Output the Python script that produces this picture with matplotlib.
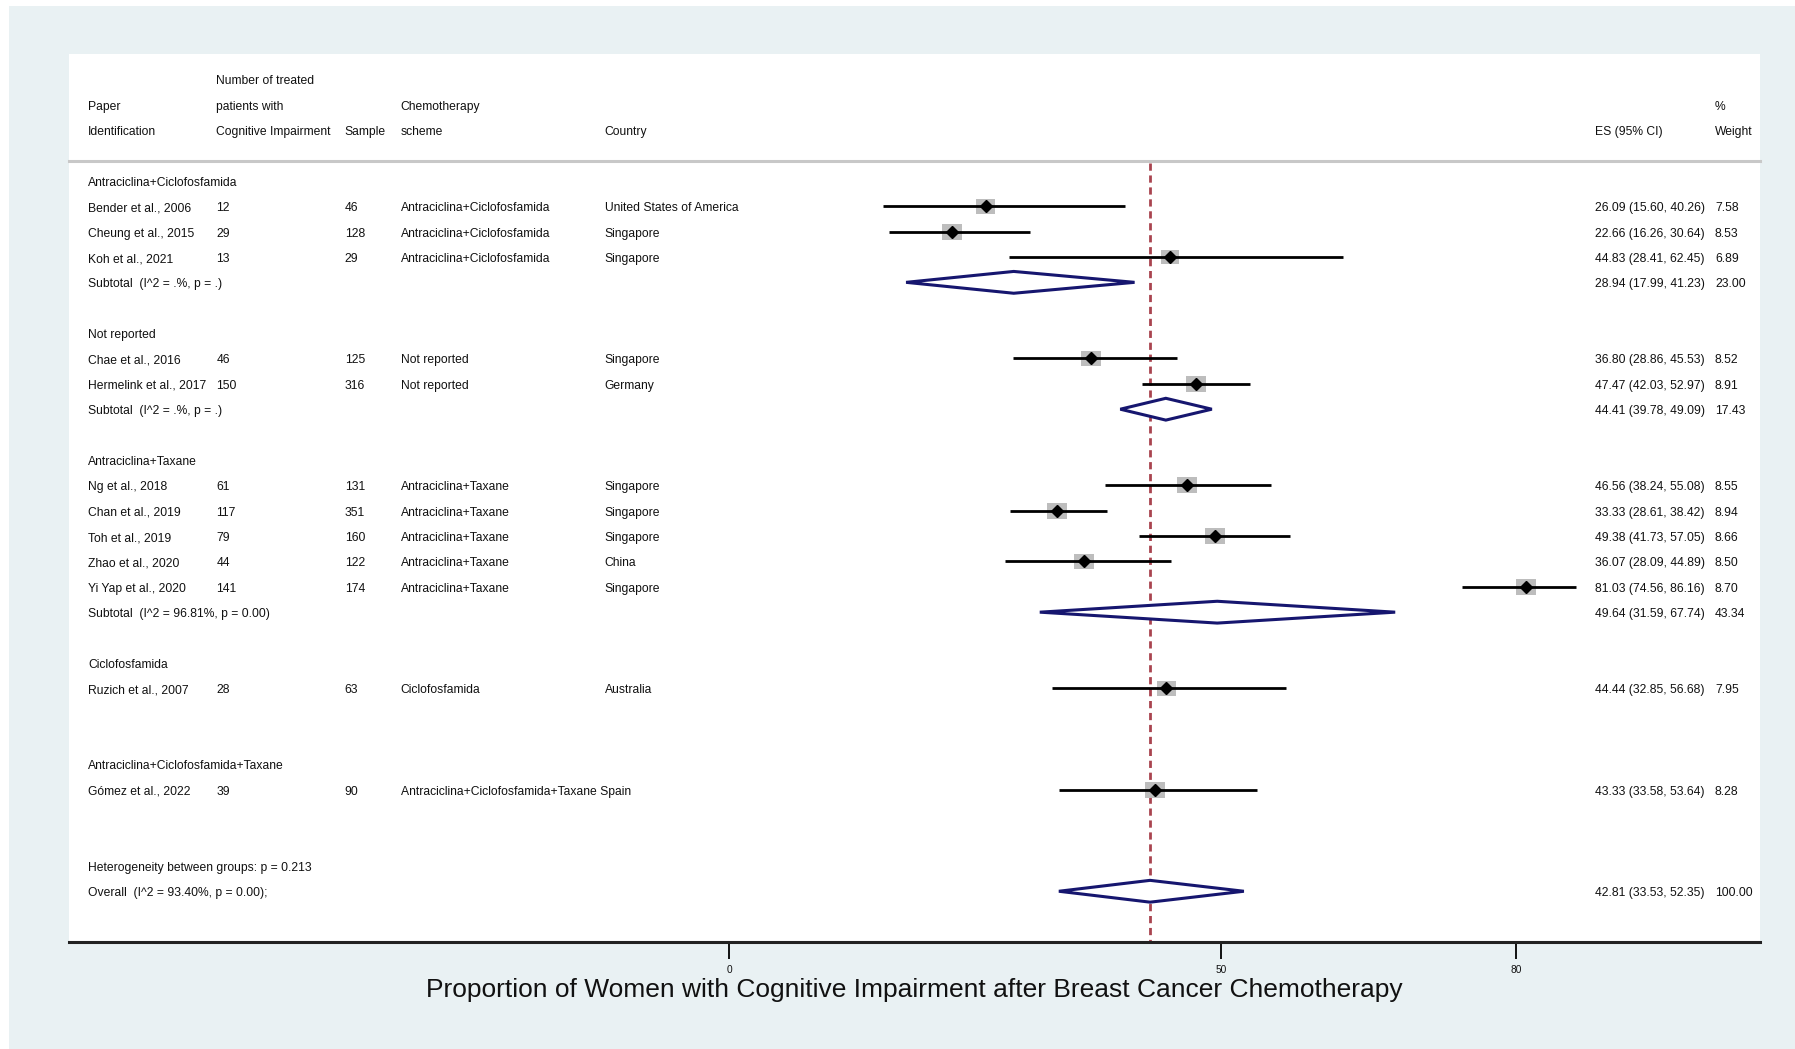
import matplotlib.pyplot as plt
import matplotlib.transforms as mtransforms
from matplotlib.patches import Polygon, Rectangle

plt.rcParams['font.family'] = ['Liberation Sans', 'DejaVu Sans']

# datos del forest plot
grupos = ["Antraciclina+Ciclofosfamida", "Not reported", "Antraciclina+Taxane",
          "Ciclofosfamida", "Antraciclina+Ciclofosfamida+Taxane"]

estudios = ["Bender et al., 2006", "Cheung et al., 2015", "Koh et al., 2021",
            "Chae et al., 2016", "Hermelink et al., 2017",
            "Ng et al., 2018", "Chan et al., 2019", "Toh et al., 2019",
            "Zhao et al., 2020", "Yi Yap et al., 2020",
            "Ruzich et al., 2007", "Gómez et al., 2022"]
grupo_estudio = [0, 0, 0, 1, 1, 2, 2, 2, 2, 2, 3, 4]
n_deterioro = [12, 29, 13, 46, 150, 61, 117, 79, 44, 141, 28, 39]
muestra = [46, 128, 29, 125, 316, 131, 351, 160, 122, 174, 63, 90]
esquema = ["Antraciclina+Ciclofosfamida"] * 3 + ["Not reported"] * 2 + \
          ["Antraciclina+Taxane"] * 5 + ["Ciclofosfamida", "Antraciclina+Ciclofosfamida+Taxane"]
pais = ["United States of America", "Singapore", "Singapore", "Singapore", "Germany",
        "Singapore", "Singapore", "Singapore", "China", "Singapore", "Australia", "Spain"]
es = [26.09, 22.66, 44.83, 36.80, 47.47, 46.56, 33.33, 49.38, 36.07, 81.03, 44.44, 43.33]
lci = [15.60, 16.26, 28.41, 28.86, 42.03, 38.24, 28.61, 41.73, 28.09, 74.56, 32.85, 33.58]
uci = [40.26, 30.64, 62.45, 45.53, 52.97, 55.08, 38.42, 57.05, 44.89, 86.16, 56.68, 53.64]
peso = [7.58, 8.53, 6.89, 8.52, 8.91, 8.55, 8.94, 8.66, 8.50, 8.70, 7.95, 8.28]

sub_etiqueta = ["Subtotal  (I^2 = .%, p = .)", "Subtotal  (I^2 = .%, p = .)",
                "Subtotal  (I^2 = 96.81%, p = 0.00)", None, None]
sub_es = [28.94, 44.41, 49.64, None, None]
sub_lci = [17.99, 39.78, 31.59, None, None]
sub_uci = [41.23, 49.09, 67.74, None, None]
sub_peso = [23.00, 17.43, 43.34, None, None]

heterogeneidad = "Heterogeneity between groups: p = 0.213"
overall_etiqueta = "Overall  (I^2 = 93.40%, p = 0.00);"
overall_es, overall_lci, overall_uci, overall_peso = 42.81, 33.53, 52.35, 100.00

ticks = [0, 50, 80]
titulo_x = "Proportion of Women with Cognitive Impairment after Breast Cancer Chemotherapy"

azul = '#16166f'
gris_caja = '#bdbdbd'
rojo = '#a9444f'
fondo = '#e9f1f3'
fs = 8.7
dy = 0.08  # pequeño ajuste vertical del texto

fig = plt.figure(figsize=(17.95, 10.49), dpi=100, facecolor='white')
fig.patches.append(Rectangle((9 / 1795, 0), 1, 1 - 6 / 1049, transform=fig.transFigure,
                             facecolor=fondo, edgecolor='none', zorder=-10))
ax = fig.add_axes([68.7 / 1795, 1 - 942 / 1049, 1690.9 / 1795, 888 / 1049])
ax.set_facecolor('white')
ax.set_xlim(-67.19, 104.81)
ax.set_ylim(30, -5)

tr = mtransforms.blended_transform_factory(ax.transAxes, ax.transData)
col_x = [0.0115, 0.0873, 0.1632, 0.1963, 0.3169]
col_es, col_w = 0.9025, 0.9736

def texto(x, y, s):
    ax.text(x, y + dy, s, transform=tr, fontsize=fs, ha='left', va='center', color='#111111')

# encabezados
texto(col_x[1], -4, "Number of treated")
texto(col_x[0], -3, "Paper")
texto(col_x[1], -3, "patients with")
texto(col_x[3], -3, "Chemotherapy")
texto(col_w, -3, "%")
texto(col_x[0], -2, "Identification")
texto(col_x[1], -2, "Cognitive Impairment")
texto(col_x[2], -2, "Sample")
texto(col_x[3], -2, "scheme")
texto(col_x[4], -2, "Country")
texto(col_es, -2, "ES (95% CI)")
texto(col_w, -2, "Weight")
ax.plot([0, 1], [-0.77, -0.77], transform=tr, color='#c8c8c8', lw=2.2, clip_on=False)

# linea del efecto global
ax.plot([overall_es, overall_es], [-0.7, 30], color=rojo, lw=2, linestyle=(0, (2.6, 1.7)), zorder=1)

fila = 0
for g, nombre in enumerate(grupos):
    texto(col_x[0], fila, nombre)
    fila += 1
    for i in range(len(estudios)):
        if grupo_estudio[i] != g:
            continue
        texto(col_x[0], fila, estudios[i])
        texto(col_x[1], fila, str(n_deterioro[i]))
        texto(col_x[2], fila, str(muestra[i]))
        if len(esquema[i]) > 30:
            texto(col_x[3], fila, esquema[i] + " " + pais[i])
        else:
            texto(col_x[3], fila, esquema[i])
            texto(col_x[4], fila, pais[i])
        texto(col_es, fila, f"{es[i]:.2f} ({lci[i]:.2f}, {uci[i]:.2f})")
        texto(col_w, fila, f"{peso[i]:.2f}")
        lado = 6.79 * peso[i] ** 0.5
        w = lado / 9.831
        h = 0.8 * lado / 25.37
        ax.add_patch(Rectangle((es[i] - w / 2, fila - h / 2), w, h, facecolor=gris_caja,
                               edgecolor='none', zorder=2))
        ax.plot([lci[i], uci[i]], [fila, fila], color='black', lw=2, zorder=3, solid_capstyle='butt')
        ax.plot(es[i], fila, marker='D', color='black', markersize=6.6, zorder=4)
        fila += 1
    if sub_es[g] is not None:
        texto(col_x[0], fila, sub_etiqueta[g])
        texto(col_es, fila, f"{sub_es[g]:.2f} ({sub_lci[g]:.2f}, {sub_uci[g]:.2f})")
        texto(col_w, fila, f"{sub_peso[g]:.2f}")
        ax.add_patch(Polygon([(sub_lci[g], fila), (sub_es[g], fila - 0.43),
                              (sub_uci[g], fila), (sub_es[g], fila + 0.43)],
                             closed=True, facecolor='white', edgecolor=azul, lw=2.2, zorder=3))
    fila += 2

texto(col_x[0], fila, heterogeneidad)
fila += 1
texto(col_x[0], fila, overall_etiqueta)
texto(col_es, fila, f"{overall_es:.2f} ({overall_lci:.2f}, {overall_uci:.2f})")
texto(col_w, fila, f"{overall_peso:.2f}")
ax.add_patch(Polygon([(overall_lci, fila), (overall_es, fila - 0.43),
                      (overall_uci, fila), (overall_es, fila + 0.43)],
                     closed=True, facecolor='white', edgecolor=azul, lw=2.2, zorder=3))

# eje inferior
for lado_spine in ['top', 'left', 'right']:
    ax.spines[lado_spine].set_visible(False)
ax.spines['bottom'].set_linewidth(2.2)
ax.spines['bottom'].set_color('#222222')
ax.set_yticks([])
ax.set_xticks(ticks)
ax.set_xticklabels([str(t) for t in ticks])
ax.tick_params(axis='x', direction='out', length=12, width=1.4, pad=4.5, labelsize=7.3, colors='#111111')
ax.set_xlabel(titulo_x, fontsize=19, labelpad=2, color='#111111')

plt.savefig("out.png", dpi=100, facecolor=fig.get_facecolor())
plt.close(fig)
